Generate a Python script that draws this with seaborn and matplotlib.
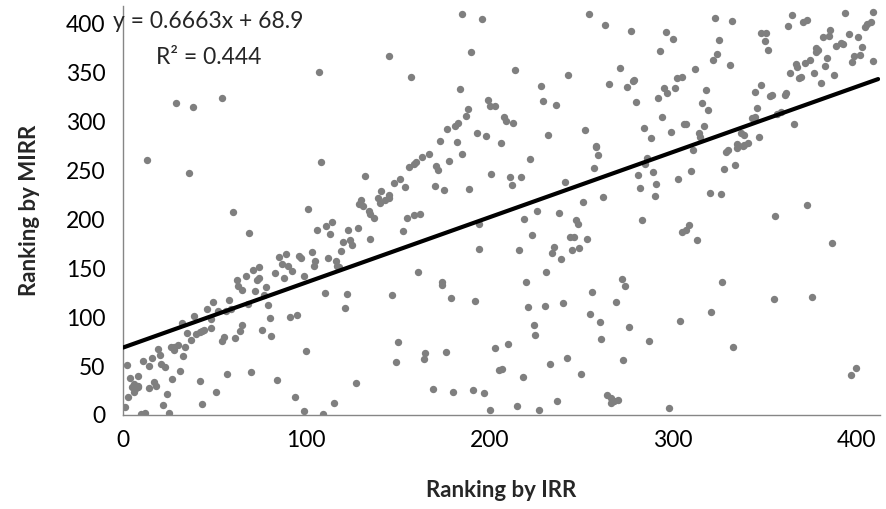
import matplotlib
matplotlib.use("Agg")
import matplotlib.pyplot as plt
import seaborn as sns
import pandas as pd

# ranking pairs (IRR rank, MIRR rank)
irr_rank = [
    29, 38, 54,
    185, 196, 145, 190, 107, 157, 184, 199, 200, 188, 187, 183, 181, 177, 193, 198, 173, 182,
    254, 263, 277, 296, 300, 293, 214, 243, 271, 228, 265, 275, 278, 279, 302, 305, 295, 297,
    301, 229, 236, 292, 280, 203, 208, 209, 213, 294, 306, 284, 299, 288, 232, 252, 206, 258,
    323, 332, 365, 363, 371, 373, 394, 409, 406, 405, 408, 325, 324, 322, 331, 312, 348, 351,
    350, 352, 386, 382, 385, 396, 401, 389, 392, 393, 378, 379, 378, 403, 402, 399, 398, 409,
    384, 383, 375, 372, 367, 368, 364, 377, 388, 369, 370, 381, 318, 348, 345, 353, 354, 362,
    361, 316, 319, 346, 359, 357, 343, 345, 307, 317, 366, 314, 315, 337, 339, 347, 335, 341,
    339,
    13, 36, 60, 69, 101, 85, 89, 96, 97, 87, 90, 92, 83, 88, 99, 71, 74, 67, 62, 73, 74,
    108, 132, 185, 178, 167, 163, 160, 159, 156, 171, 172, 201, 151, 148, 154, 170, 175, 189,
    141, 139, 145, 140, 143, 145, 130, 129, 131, 134, 135, 137, 155, 159, 162, 114, 111, 106,
    113, 123, 128, 153, 194, 135, 120, 124, 125, 103, 119, 112, 116, 117, 118, 105, 104, 194,
    161, 174,
    222, 211, 212, 217, 241, 258, 259, 257, 286, 285, 281, 282, 289, 291, 290, 303, 262, 251,
    226, 219, 238, 247, 248, 283, 223, 244, 246, 253, 235, 234, 245, 249, 216, 239, 305, 231,
    272,
    311, 329, 330, 335, 338, 310, 328, 334, 320, 326, 373, 356, 309, 307, 313, 387, 327,
    1, 2, 3, 4, 5, 6, 7, 8, 8, 6, 8, 10, 12, 11, 14, 14, 16, 17, 18, 19, 20, 21, 23, 22, 24,
    25, 26, 28, 28, 30, 27, 31, 33, 32, 34, 35, 37, 39, 40, 42, 43, 44, 48, 42, 43, 46, 49,
    48, 51, 52, 54, 55, 56, 58, 57, 59, 61, 63, 65, 64, 65, 68, 70, 72, 76, 77, 78, 79, 80,
    81, 84, 91, 95, 94, 99, 100,
    110, 122, 121, 147, 174, 179, 192, 150, 149, 165, 164, 176, 203, 127, 169, 180, 191, 197,
    109, 115, 200,
    220, 256, 274, 221, 230, 240, 255, 260, 269, 276, 224, 225, 261, 287, 304, 210, 205, 207,
    218, 233, 242, 250, 273, 237, 215, 227, 264, 266, 268, 270, 266, 298,
    321, 355, 376, 333, 400, 397,
]
mirr_rank = [
    319, 315, 324,
    410, 405, 367, 371, 351, 346, 333, 322, 316, 313, 306, 299, 295, 292, 288, 285, 280, 279,
    410, 399, 393, 392, 384, 372, 353, 348, 355, 336, 338, 335, 341, 342, 344, 346, 334, 329,
    334, 321, 317, 324, 320, 316, 305, 301, 299, 305, 297, 293, 289, 283, 286, 291, 278, 275,
    406, 403, 409, 398, 402, 404, 411, 412, 400, 397, 402, 383, 369, 363, 358, 354, 391, 390,
    382, 373, 394, 386, 387, 389, 386, 377, 380, 379, 375, 373, 371, 376, 368, 367, 361, 362,
    365, 357, 363, 360, 359, 356, 350, 350, 348, 345, 346, 339, 332, 337, 330, 326, 327, 329,
    327, 319, 312, 314, 310, 308, 304, 305, 297, 295, 297, 288, 284, 288, 286, 284, 277, 278,
    276,
    261, 247, 208, 186, 211, 162, 165, 163, 161, 154, 152, 147, 145, 140, 142, 148, 151, 142,
    138, 138, 140,
    259, 244, 267, 260, 267, 264, 259, 257, 254, 255, 250, 246, 241, 237, 233, 234, 230, 231,
    229, 222, 225, 217, 220, 222, 220, 216, 214, 209, 205, 201, 201, 204, 205, 197, 193, 189,
    185, 189, 191, 188, 195, 180, 177, 179, 174, 167, 168, 160, 157, 152, 151, 157, 152, 170,
    146, 136,
    262, 243, 235, 243, 238, 274, 266, 252, 263, 257, 245, 232, 248, 236, 224, 241, 223, 218,
    209, 200, 206, 199, 195, 199, 184, 182, 182, 180, 172, 166, 169, 171, 169, 159, 187, 146,
    139,
    271, 269, 271, 273, 275, 249, 251, 256, 227, 226, 215, 203, 194, 189, 179, 176, 136,
    8, 51, 18, 38, 29, 24, 28, 30, 29, 32, 40, 1, 2, 55, 50, 28, 58, 34, 30, 67, 61, 52, 49,
    10, 21, 2, 70, 66, 69, 72, 37, 45, 60, 94, 69, 84, 77, 101, 83, 85, 86, 87, 89, 35, 11,
    108, 116, 98, 23, 106, 76, 80, 106, 118, 42, 108, 79, 132, 128, 86, 92, 113, 44, 127, 87,
    123, 131, 112, 99, 81, 36, 100, 102, 18, 4, 65,
    125, 124, 109, 123, 133, 120, 117, 75, 54, 63, 57, 64, 68, 33, 27, 24, 26, 22, 1, 12, 5,
    136, 126, 132, 110, 111, 114, 103, 95, 115, 90, 92, 82, 78, 76, 96, 73, 46, 47, 39, 52,
    58, 42, 56, 14, 9, 5, 20, 17, 14, 15, 12, 7,
    105, 119, 121, 70, 48, 41,
]

# trendline as printed on the chart
slope = 0.6663
intercept = 68.9
x_max = 413
y_max = 418

df = pd.DataFrame({"irr": irr_rank, "mirr": mirr_rank})
trend = pd.DataFrame({"irr": [0, 412]})
trend["mirr"] = slope * trend["irr"] + intercept

sns.set_theme(style="white")
plt.rcParams["font.family"] = ["Lato", "DejaVu Sans"]

fig = plt.figure(figsize=(8.86, 5.09), dpi=100)
ax = fig.add_axes([0.1388, 0.1847, 0.8544, 0.8033])

sns.scatterplot(data=df, x="irr", y="mirr", color="#7f7f7f", s=28,
                linewidth=0, ax=ax, zorder=2)
sns.lineplot(data=trend, x="irr", y="mirr", color="black", linewidth=3,
             ax=ax, zorder=3)

ax.set_xlim(0, x_max)
ax.set_ylim(0, y_max)
ax.set_xticks([0, 100, 200, 300, 400])
ax.set_yticks(range(0, 401, 50))
ax.tick_params(axis="both", direction="out", length=5, width=1,
               color="#868686", labelsize=16.5, labelcolor="black")
ax.tick_params(axis="y", pad=7.5)
ax.tick_params(axis="x", pad=6)
for side in ["top", "right"]:
    ax.spines[side].set_visible(False)
for side in ["left", "bottom"]:
    ax.spines[side].set_color("#868686")
    ax.spines[side].set_linewidth(1)

ax.set_xlabel("Ranking by IRR", fontsize=16, fontweight="bold", labelpad=21)
ax.set_ylabel("Ranking by MIRR", fontsize=16, fontweight="bold", labelpad=19)

fig.text(0.235, 0.957, "y = 0.6663x + 68.9", fontsize=16.5, ha="center", va="center")
fig.text(0.236, 0.888, "R² = 0.444", fontsize=16.5, ha="center", va="center")

fig.savefig("out.png", dpi=100)
